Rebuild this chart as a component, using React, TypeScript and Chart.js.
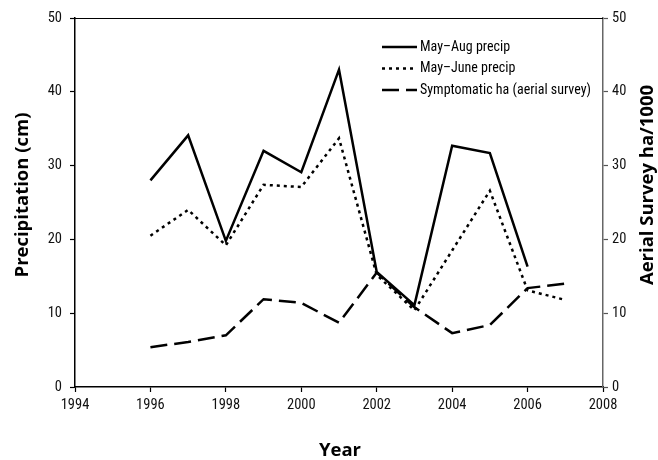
import React, { useEffect, useRef } from "react";
import { Chart, registerables } from "chart.js";

Chart.register(...registerables);

const years = [1996, 1997, 1998, 1999, 2000, 2001, 2002, 2003, 2004, 2005, 2006, 2007];
const mayAugPrecip = [28, 34.1, 19.8, 32, 29.1, 43, 15.6, 11.1, 32.7, 31.7, 16.3, null];
const mayJunePrecip = [20.5, 24, 19.2, 27.4, 27.1, 33.7, 15.2, 10.4, 18.5, 26.6, 13.1, 11.8];
const symptomaticHa = [5.4, 6.1, 7.0, 11.9, 11.4, 8.7, 15.5, 10.8, 7.3, 8.4, 13.4, 14.0];
const xTicks = [1994, 1996, 1998, 2000, 2002, 2004, 2006, 2008];
const yTicks = [0, 10, 20, 30, 40, 50];
const seriesLabels = ["May–Aug precip", "May–June precip", "Symptomatic ha (aerial survey)"];
const leftTitle = "Precipitation (cm)";
const rightTitle = "Aerial Survey ha/1000";
const xTitle = "Year";

const FONT = "'Roboto Condensed', 'DejaVu Sans Condensed', sans-serif";
const TITLE_FONT = "'Open Sans', 'DejaVu Sans', sans-serif";

const toPoints = (vals: (number | null)[]) => years.map((x, i) => ({ x, y: vals[i] }));

const extrasPlugin = {
  id: "extras",
  afterDraw(chart: any) {
    const { ctx, chartArea } = chart;
    ctx.save();
    // top frame line
    ctx.strokeStyle = "#000";
    ctx.lineWidth = 1.2;
    ctx.beginPath();
    ctx.moveTo(chartArea.left, chartArea.top + 0.5);
    ctx.lineTo(chartArea.right, chartArea.top + 0.5);
    ctx.stroke();

    // axis titles
    ctx.fillStyle = "#000";
    ctx.font = `bold 18.5px ${TITLE_FONT}`;
    ctx.textAlign = "center";
    ctx.textBaseline = "middle";
    ctx.fillText(xTitle, 340, 451);

    ctx.save();
    ctx.translate(23, 195);
    ctx.rotate(-Math.PI / 2);
    ctx.fillText(leftTitle, 0, 0);
    ctx.restore();

    ctx.save();
    ctx.translate(648, 185);
    ctx.rotate(-Math.PI / 2);
    ctx.fillText(rightTitle, 0, 0);
    ctx.restore();
    ctx.restore();

    // legend
    ctx.save();
    const x0 = 382;
    const x1 = 417;
    const rows = [47, 68.5, 90];
    chart.data.datasets.forEach((ds: any, i: number) => {
      const y = rows[i];
      ctx.strokeStyle = "#000";
      ctx.lineWidth = 2.5;
      ctx.setLineDash(ds.borderDash || []);
      ctx.beginPath();
      ctx.moveTo(x0, y);
      ctx.lineTo(x1, y);
      ctx.stroke();
      ctx.setLineDash([]);
      ctx.fillStyle = "#000";
      ctx.font = `14px ${FONT}`;
      ctx.textAlign = "left";
      ctx.textBaseline = "middle";
      ctx.fillText(ds.label, 420, y);
    });
    ctx.restore();
  },
};

export default function App() {
  const ref = useRef<HTMLCanvasElement | null>(null);
  useEffect(() => {
    if (!ref.current) return;
    const tickGrid = { drawOnChartArea: false, drawTicks: true, tickLength: 5, tickColor: "#000", tickWidth: 1.2 };
    const chart = new Chart(ref.current, {
      type: "line",
      data: {
        datasets: [
          {
            label: seriesLabels[0],
            data: toPoints(mayAugPrecip),
            borderColor: "#000",
            borderWidth: 2.5,
            pointRadius: 0,
            tension: 0,
            spanGaps: false,
            yAxisID: "y",
          },
          {
            label: seriesLabels[1],
            data: toPoints(mayJunePrecip),
            borderColor: "#000",
            borderWidth: 2.5,
            borderDash: [3, 4],
            pointRadius: 0,
            tension: 0,
            yAxisID: "y",
          },
          {
            label: seriesLabels[2],
            data: toPoints(symptomaticHa),
            borderColor: "#000",
            borderWidth: 2.5,
            borderDash: [17, 7],
            pointRadius: 0,
            tension: 0,
            yAxisID: "y2",
          },
        ],
      },
      options: {
        animation: false,
        responsive: false,
        layout: { padding: { top: 18, left: 0, right: 0, bottom: 0 } },
        plugins: { legend: { display: false }, tooltip: { enabled: false } },
        scales: {
          x: {
            type: "linear",
            min: xTicks[0],
            max: xTicks[xTicks.length - 1],
            afterBuildTicks: (s: any) => {
              s.ticks = xTicks.map((v) => ({ value: v }));
            },
            afterFit: (s: any) => {
              s.height = 73;
            },
            ticks: {
              color: "#111",
              font: { family: FONT, size: 14.5 },
              padding: 5,
              maxRotation: 0,
              callback: (v: any) => String(v),
            },
            grid: tickGrid,
            border: { color: "#000", width: 1.5 },
          },
          y: {
            position: "left",
            min: 0,
            max: 50,
            afterBuildTicks: (s: any) => {
              s.ticks = yTicks.map((v) => ({ value: v }));
            },
            afterFit: (s: any) => {
              s.width = 75;
            },
            ticks: { color: "#111", font: { family: FONT, size: 14.5 }, padding: 8 },
            grid: tickGrid,
            border: { color: "#000", width: 1.5 },
          },
          y2: {
            position: "right",
            min: 0,
            max: 50,
            afterBuildTicks: (s: any) => {
              s.ticks = yTicks.map((v) => ({ value: v }));
            },
            afterFit: (s: any) => {
              s.width = 55;
            },
            ticks: { color: "#111", font: { family: FONT, size: 14.5 }, padding: 4 },
            grid: { ...tickGrid, tickColor: "#555" },
            border: { color: "#666", width: 1.5 },
          },
        },
      } as any,
      plugins: [extrasPlugin],
    });
    return () => chart.destroy();
  }, []);
  return (
    <div style={{ position: "absolute", left: 0, top: 0, width: 658, height: 460, background: "#fff" }}>
      <canvas ref={ref} width={658} height={460} style={{ display: "block" }} />
    </div>
  );
}
